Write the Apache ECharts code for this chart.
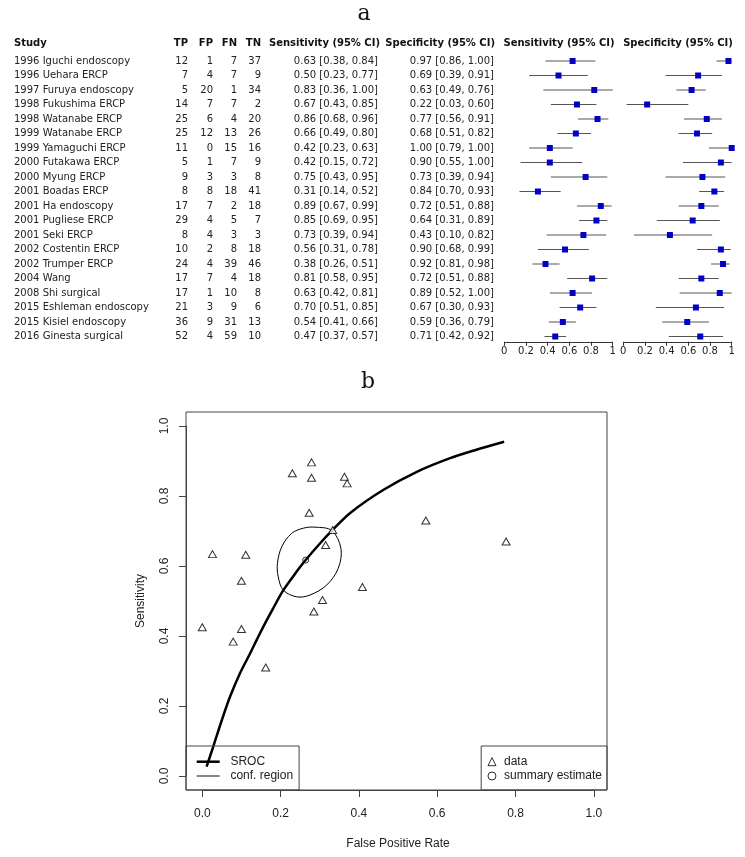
<!DOCTYPE html>
<html><head><meta charset="utf-8">
<script src="https://cdn.jsdelivr.net/npm/echarts@6/dist/echarts.min.js"></script>
<style>html,body{margin:0;padding:0;background:#fff}#c{width:745px;height:857px}</style>
</head><body><div id="c"></div>
<script>
// ---- Panel a: study table ----
const studies = ['1996 Iguchi endoscopy','1996 Uehara ERCP','1997 Furuya endoscopy','1998 Fukushima ERCP','1998 Watanabe ERCP','1999 Watanabe ERCP','1999 Yamaguchi ERCP','2000 Futakawa ERCP','2000 Myung ERCP','2001 Boadas ERCP','2001 Ha endoscopy','2001 Pugliese ERCP','2001 Seki ERCP','2002 Costentin ERCP','2002 Trumper ERCP','2004 Wang','2008 Shi surgical','2015 Eshleman endoscopy','2015 Kisiel endoscopy','2016 Ginesta surgical'];
const TP = [12,7,5,14,25,25,11,5,9,8,17,29,8,10,24,17,17,21,36,52];
const FP = [1,4,20,7,6,12,0,1,3,8,7,4,4,2,4,7,1,3,9,4];
const FN = [7,7,1,7,4,13,15,7,3,18,2,5,3,8,39,4,10,9,31,59];
const TN = [37,9,34,2,20,26,16,9,8,41,18,7,3,18,46,18,8,6,13,10];
const sensEst = [0.63,0.50,0.83,0.67,0.86,0.66,0.42,0.42,0.75,0.31,0.89,0.85,0.73,0.56,0.38,0.81,0.63,0.70,0.54,0.47];
const sensLo  = [0.38,0.23,0.36,0.43,0.68,0.49,0.23,0.15,0.43,0.14,0.67,0.69,0.39,0.31,0.26,0.58,0.42,0.51,0.41,0.37];
const sensHi  = [0.84,0.77,1.00,0.85,0.96,0.80,0.63,0.72,0.95,0.52,0.99,0.95,0.94,0.78,0.51,0.95,0.81,0.85,0.66,0.57];
const specEst = [0.97,0.69,0.63,0.22,0.77,0.68,1.00,0.90,0.73,0.84,0.72,0.64,0.43,0.90,0.92,0.72,0.89,0.67,0.59,0.71];
const specLo  = [0.86,0.39,0.49,0.03,0.56,0.51,0.79,0.55,0.39,0.70,0.51,0.31,0.10,0.68,0.81,0.51,0.52,0.30,0.36,0.42];
const specHi  = [1.00,0.91,0.76,0.60,0.91,0.82,1.00,1.00,0.94,0.93,0.88,0.89,0.82,0.99,0.98,0.88,1.00,0.93,0.79,0.92];
const forestTicks = ['0','0.2','0.4','0.6','0.8','1'];

// ---- Panel b: SROC plot ----
const plotFPR  = [0.026,0.307,0.370,0.776,0.230,0.315,0.000,0.100,0.273,0.162,0.279,0.363,0.571,0.100,0.079,0.279,0.111,0.333,0.409,0.285];
const plotSens = [0.634,0.503,0.836,0.670,0.865,0.660,0.425,0.420,0.752,0.310,0.896,0.855,0.730,0.558,0.384,0.852,0.632,0.703,0.540,0.470];
const summaryPoint = [0.264, 0.617];
const srocCurve = [[0.011,0.027],[0.028,0.084],[0.050,0.160],[0.071,0.227],[0.096,0.293],[0.122,0.350],[0.139,0.389],[0.156,0.427],[0.181,0.479],[0.207,0.531],[0.241,0.584],[0.264,0.617],[0.301,0.665],[0.333,0.703],[0.377,0.751],[0.462,0.817],[0.548,0.869],[0.633,0.908],[0.700,0.932],[0.771,0.955]];
const confRegion = [[0.288,0.711],[0.331,0.701],[0.354,0.650],[0.347,0.593],[0.318,0.546],[0.275,0.517],[0.241,0.512],[0.207,0.531],[0.194,0.569],[0.192,0.608],[0.203,0.655],[0.228,0.693],[0.258,0.708]];

const TF = 'DejaVu Sans';
const TS = 10;
const TC = '#222';
const RF = 'Liberation Sans';
const fmt2 = v => v.toFixed(2);
const ciText = (e, l, h) => e.map((v, i) => fmt2(v) + ' [' + fmt2(l[i]) + ', ' + fmt2(h[i]) + ']');
const rowIdx = studies.map((_, i) => String(i));

const tableTop = 53.75, tableH = 290;

function colAxis(texts, xPos, align) {
  return {
    type: 'category', gridIndex: 0, position: 'left', offset: -xPos, inverse: true,
    data: rowIdx,
    axisLine: {show: false}, axisTick: {show: false}, splitLine: {show: false},
    axisLabel: {interval: 0, margin: 0, align: align, color: TC, fontFamily: TF, fontSize: TS,
      formatter: (v, i) => String(texts[i])}
  };
}

function forestItem(params, api) {
  const row = api.value(0);
  const e = api.coord([api.value(1), row]);
  const l = api.coord([api.value(2), row]);
  const h = api.coord([api.value(3), row]);
  return {type: 'group', children: [
    {type: 'line', shape: {x1: l[0], y1: l[1], x2: h[0], y2: h[1]}, style: {stroke: '#555', lineWidth: 1}},
    {type: 'rect', shape: {x: e[0] - 3, y: e[1] - 3, width: 6, height: 6}, style: {fill: '#0000C8'}}
  ]};
}

function forestXAxis(gi) {
  return {
    type: 'value', gridIndex: gi, min: 0, max: 1, interval: 0.2, offset: -2,
    axisLine: {show: true, onZero: false, lineStyle: {color: '#333', width: 1}},
    axisTick: {show: true, length: 4, lineStyle: {color: '#333'}},
    splitLine: {show: false},
    axisLabel: {margin: 5, color: TC, fontFamily: TF, fontSize: TS, showMinLabel: true, showMaxLabel: true,
      formatter: v => forestTicks[Math.round(v * 5)]}
  };
}
function forestYAxis(gi) {
  return {type: 'category', gridIndex: gi, inverse: true, data: rowIdx, show: false};
}

const headers = [
  {t: 'Study', x: 14, a: 'left'},
  {t: 'TP', x: 188, a: 'right'},
  {t: 'FP', x: 213, a: 'right'},
  {t: 'FN', x: 237, a: 'right'},
  {t: 'TN', x: 261, a: 'right'},
  {t: 'Sensitivity (95% CI)', x: 380, a: 'right'},
  {t: 'Specificity (95% CI)', x: 495, a: 'right'},
  {t: 'Sensitivity (95% CI)', x: 559, a: 'center'},
  {t: 'Specificity (95% CI)', x: 678, a: 'center'}
];

const graphics = headers.map(h => ({
  type: 'text', x: h.x, y: 43.5,
  style: {text: h.t, align: h.a, verticalAlign: 'middle', fill: '#111', font: 'bold ' + TS + 'px ' + TF}
}));
graphics.push({type: 'text', x: 364, y: 14, style: {text: 'a', align: 'center', verticalAlign: 'middle', fill: '#111', font: '22px "DejaVu Serif"'}});
graphics.push({type: 'text', x: 368, y: 382, style: {text: 'b', align: 'center', verticalAlign: 'middle', fill: '#111', font: '22px "DejaVu Serif"'}});

const plotAxisLabel = {color: '#222', fontFamily: RF, fontSize: 12, formatter: v => v.toFixed(1), showMinLabel: true, showMaxLabel: true};

const option = {
  animation: false,
  backgroundColor: '#fff',
  graphic: graphics,
  grid: [
    {left: 0, right: 0, top: tableTop, height: tableH, outerBoundsMode: 'none'},
    {left: 504.3, width: 108.4, top: tableTop, height: tableH, outerBoundsMode: 'none'},
    {left: 623.3, width: 108.4, top: tableTop, height: tableH, outerBoundsMode: 'none'},
    {left: 186, top: 412, width: 421, height: 378, show: true, borderColor: '#444', borderWidth: 1, backgroundColor: 'transparent', outerBoundsMode: 'none'},
    {left: 202.3, top: 426, width: 391.5, height: 350, outerBoundsMode: 'none'}
  ],
  xAxis: [
    {type: 'value', gridIndex: 0, show: false, min: 0, max: 1},
    forestXAxis(1),
    forestXAxis(2),
    {type: 'value', gridIndex: 3, show: false, min: 0, max: 1},
    {type: 'value', gridIndex: 4, min: 0, max: 1, interval: 0.2, offset: 14,
      axisLine: {show: true, onZero: false, lineStyle: {color: '#444'}},
      axisTick: {show: true, length: 7, lineStyle: {color: '#444'}},
      splitLine: {show: false},
      axisLabel: Object.assign({margin: 18}, plotAxisLabel),
      name: 'False Positive Rate', nameLocation: 'middle', nameGap: 48,
      nameTextStyle: {color: '#222', fontFamily: RF, fontSize: 12}}
  ],
  yAxis: [
    colAxis(studies, 14, 'left'),
    colAxis(TP, 188, 'right'),
    colAxis(FP, 213, 'right'),
    colAxis(FN, 237, 'right'),
    colAxis(TN, 261, 'right'),
    colAxis(ciText(sensEst, sensLo, sensHi), 378, 'right'),
    colAxis(ciText(specEst, specLo, specHi), 494, 'right'),
    forestYAxis(1),
    forestYAxis(2),
    {type: 'value', gridIndex: 3, show: false, min: 0, max: 1},
    {type: 'value', gridIndex: 4, min: 0, max: 1, interval: 0.2, offset: 16.3,
      axisLine: {show: true, onZero: false, lineStyle: {color: '#444'}},
      axisTick: {show: true, length: 7, lineStyle: {color: '#444'}},
      splitLine: {show: false},
      axisLabel: Object.assign({margin: 15, rotate: 90}, plotAxisLabel),
      name: 'Sensitivity', nameLocation: 'middle', nameGap: 39, nameRotate: 90,
      nameTextStyle: {color: '#222', fontFamily: RF, fontSize: 12}}
  ],
  legend: [
    {left: 186, top: 746, orient: 'vertical', selectedMode: false,
      padding: [9.7, 6, 8, 10.7], itemGap: 2.3, itemWidth: 23, itemHeight: 12,
      borderColor: '#444', borderWidth: 1, backgroundColor: 'transparent', borderRadius: 0,
      itemStyle: {color: '#000', borderWidth: 0},
      textStyle: {color: '#222', fontFamily: RF, fontSize: 12, lineHeight: 12, padding: [0, 0, 0, 5.7]},
      data: [
        {name: 'SROC', icon: 'path://M0,0H24V2.6H0Z'},
        {name: 'conf. region', icon: 'path://M0,0H24V1H0Z'}
      ]},
    {right: 138, top: 746, orient: 'vertical', selectedMode: false,
      padding: [9.7, 5, 8, 6.3], itemGap: 2.3, itemWidth: 8, itemHeight: 8,
      borderColor: '#444', borderWidth: 1, backgroundColor: 'transparent', borderRadius: 0,
      itemStyle: {color: '#fff', borderColor: '#000', borderWidth: 1},
      textStyle: {color: '#222', fontFamily: RF, fontSize: 12, lineHeight: 12, padding: [0, 0, 0, 3]},
      data: [
        {name: 'data', icon: 'triangle'},
        {name: 'summary estimate', icon: 'circle'}
      ]}
  ],
  series: [
    {type: 'custom', name: 'sens forest', xAxisIndex: 1, yAxisIndex: 7, renderItem: forestItem,
      encode: {x: [1, 2, 3], y: 0},
      data: studies.map((_, i) => [i, sensEst[i], sensLo[i], sensHi[i]])},
    {type: 'custom', name: 'spec forest', xAxisIndex: 2, yAxisIndex: 8, renderItem: forestItem,
      encode: {x: [1, 2, 3], y: 0},
      data: studies.map((_, i) => [i, specEst[i], specLo[i], specHi[i]])},
    {type: 'line', name: 'SROC', xAxisIndex: 4, yAxisIndex: 10, data: srocCurve,
      smooth: 0.3, symbol: 'none', color: '#000', lineStyle: {color: '#000', width: 2.5}, z: 3},
    {type: 'custom', name: 'conf. region', xAxisIndex: 4, yAxisIndex: 10, color: '#000',
      itemStyle: {color: '#000'},
      data: confRegion,
      renderItem: function (params, api) {
        if (params.dataIndex !== 0) return null;
        const pts = confRegion.map(p => api.coord(p));
        return {type: 'polygon', shape: {points: pts, smooth: 0.35},
          style: {fill: 'none', stroke: '#000', lineWidth: 1}};
      }},
    {type: 'scatter', name: 'data', xAxisIndex: 4, yAxisIndex: 10,
      data: plotFPR.map((v, i) => [v, plotSens[i]]),
      symbol: 'triangle', symbolSize: [8, 7],
      itemStyle: {color: '#fff', borderColor: '#000', borderWidth: 1}, z: 4},
    {type: 'scatter', name: 'summary estimate', xAxisIndex: 4, yAxisIndex: 10,
      data: [summaryPoint], symbol: 'circle', symbolSize: 6,
      itemStyle: {color: 'rgba(255,255,255,0)', borderColor: '#000', borderWidth: 1}, z: 5}
  ]
};

const chart = echarts.init(document.getElementById('c'), null, {renderer: 'canvas'});
chart.setOption(option);
</script>
</body></html>
